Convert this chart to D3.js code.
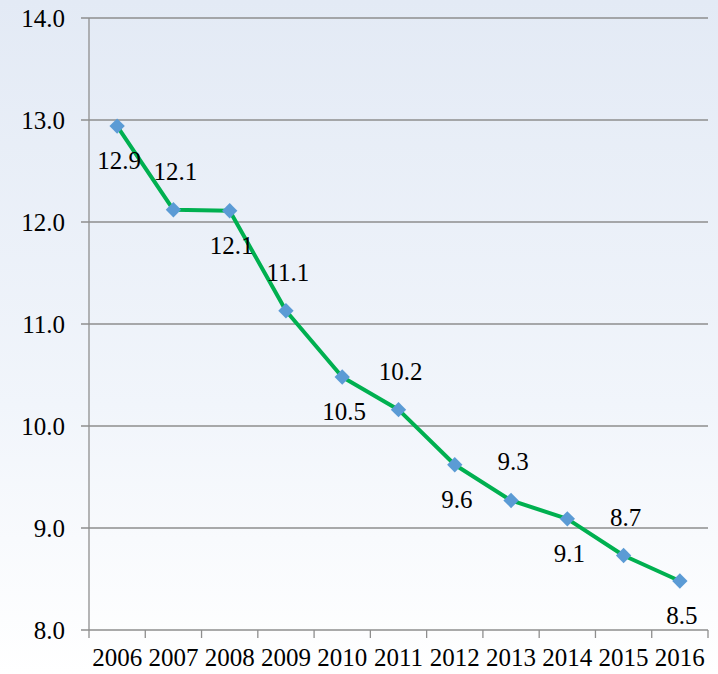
<!DOCTYPE html>
<html>
<head>
<meta charset="utf-8">
<script src="https://cdn.jsdelivr.net/npm/d3@7"></script>
</head>
<body style="margin:0">
<svg id="chart" width="718" height="674" style="display:block;font-family:'Times New Roman'"></svg>
<script>
// chart data
const years = ['2006', '2007', '2008', '2009', '2010', '2011', '2012', '2013', '2014', '2015', '2016'];
const values = [12.94, 12.12, 12.11, 11.13, 10.48, 10.16, 9.62, 9.27, 9.09, 8.73, 8.48];
const labels = ['12.9', '12.1', '12.1', '11.1', '10.5', '10.2', '9.6', '9.3', '9.1', '8.7', '8.5'];
const yTicks = [8, 9, 10, 11, 12, 13, 14];

const W = 718, H = 674;
const margin = { top: 18, right: 10, bottom: 44, left: 89 };
const width = W - margin.left - margin.right,
    height = H - margin.top - margin.bottom;

const svg = d3.select('#chart');

// soft blue background
const grad = svg.append('defs').append('linearGradient')
    .attr('id', 'bg')
    .attr('x1', 0).attr('y1', 0).attr('x2', 0).attr('y2', 1);
grad.append('stop').attr('offset', '0%').attr('stop-color', '#e3eaf5');
grad.append('stop').attr('offset', '60%').attr('stop-color', '#f1f5fb');
grad.append('stop').attr('offset', '100%').attr('stop-color', '#ffffff');
svg.append('rect').attr('width', W).attr('height', H).attr('fill', 'url(#bg)');

const g = svg.append('g')
    .attr('font-family', 'Times New Roman')
    .attr('transform', 'translate(' + margin.left + ',' + margin.top + ')');

const x = d3.scaleBand().domain(years).range([0, width]);
const y = d3.scaleLinear().domain([8, 14]).range([height, 0]);

// gridlines
g.append('g')
    .selectAll('line')
    .data(yTicks)
    .join('line')
    .attr('x1', -8).attr('x2', width)
    .attr('y1', d => y(d)).attr('y2', d => y(d))
    .attr('stroke', '#8e8e8e')
    .attr('stroke-width', 1.3);

// y axis labels
g.append('g')
    .selectAll('text')
    .data(yTicks)
    .join('text')
    .attr('x', -24)
    .attr('y', d => y(d))
    .attr('dy', '0.35em')
    .attr('text-anchor', 'end')
    .attr('font-family', 'Times New Roman')
    .attr('font-size', 25)
    .attr('fill', '#000')
    .text(d => d.toFixed(1));

// left axis line
g.append('line')
    .attr('x1', 0).attr('x2', 0)
    .attr('y1', 0).attr('y2', height)
    .attr('stroke', '#8e8e8e')
    .attr('stroke-width', 1.3);

// x axis labels
g.append('g')
    .selectAll('text')
    .data(years)
    .join('text')
    .attr('x', d => x(d) + x.bandwidth() / 2)
    .attr('y', height + 36)
    .attr('text-anchor', 'middle')
    .attr('font-family', 'Times New Roman')
    .attr('font-size', 25)
    .attr('fill', '#000')
    .text(d => d);

const boundaries = years.map(d => x(d)).concat([width]);
g.append('g')
    .selectAll('line')
    .data(boundaries)
    .join('line')
    .attr('x1', d => d).attr('x2', d => d)
    .attr('y1', height).attr('y2', height + 8)
    .attr('stroke', '#8e8e8e')
    .attr('stroke-width', 1.3);

const cx = d => x(d) + x.bandwidth() / 2;

// the line
const line = d3.line()
    .x((d, i) => cx(years[i]))
    .y(d => y(d));

g.append('path')
    .datum(values)
    .attr('fill', 'none')
    .attr('stroke', '#00b050')
    .attr('stroke-width', 4)
    .attr('stroke-linejoin', 'round')
    .attr('d', line);

// diamond markers
g.append('g')
    .selectAll('path')
    .data(values)
    .join('path')
    .attr('transform', (d, i) => 'translate(' + cx(years[i]) + ',' + y(d) + ')')
    .attr('d', d3.symbol().type(d3.symbolDiamond2).size(150))
    .attr('fill', '#5b9bd5');

// data labels, alternating below / above
g.append('g')
    .selectAll('text')
    .data(values)
    .join('text')
    .attr('x', (d, i) => cx(years[i]) + 2)
    .attr('y', (d, i) => i % 2 === 0 ? y(d) + 43 : y(d) - 30)
    .attr('text-anchor', 'middle')
    .attr('font-family', 'Times New Roman')
    .attr('font-size', 25)
    .attr('fill', '#000')
    .text((d, i) => labels[i]);
</script>
</body>
</html>
